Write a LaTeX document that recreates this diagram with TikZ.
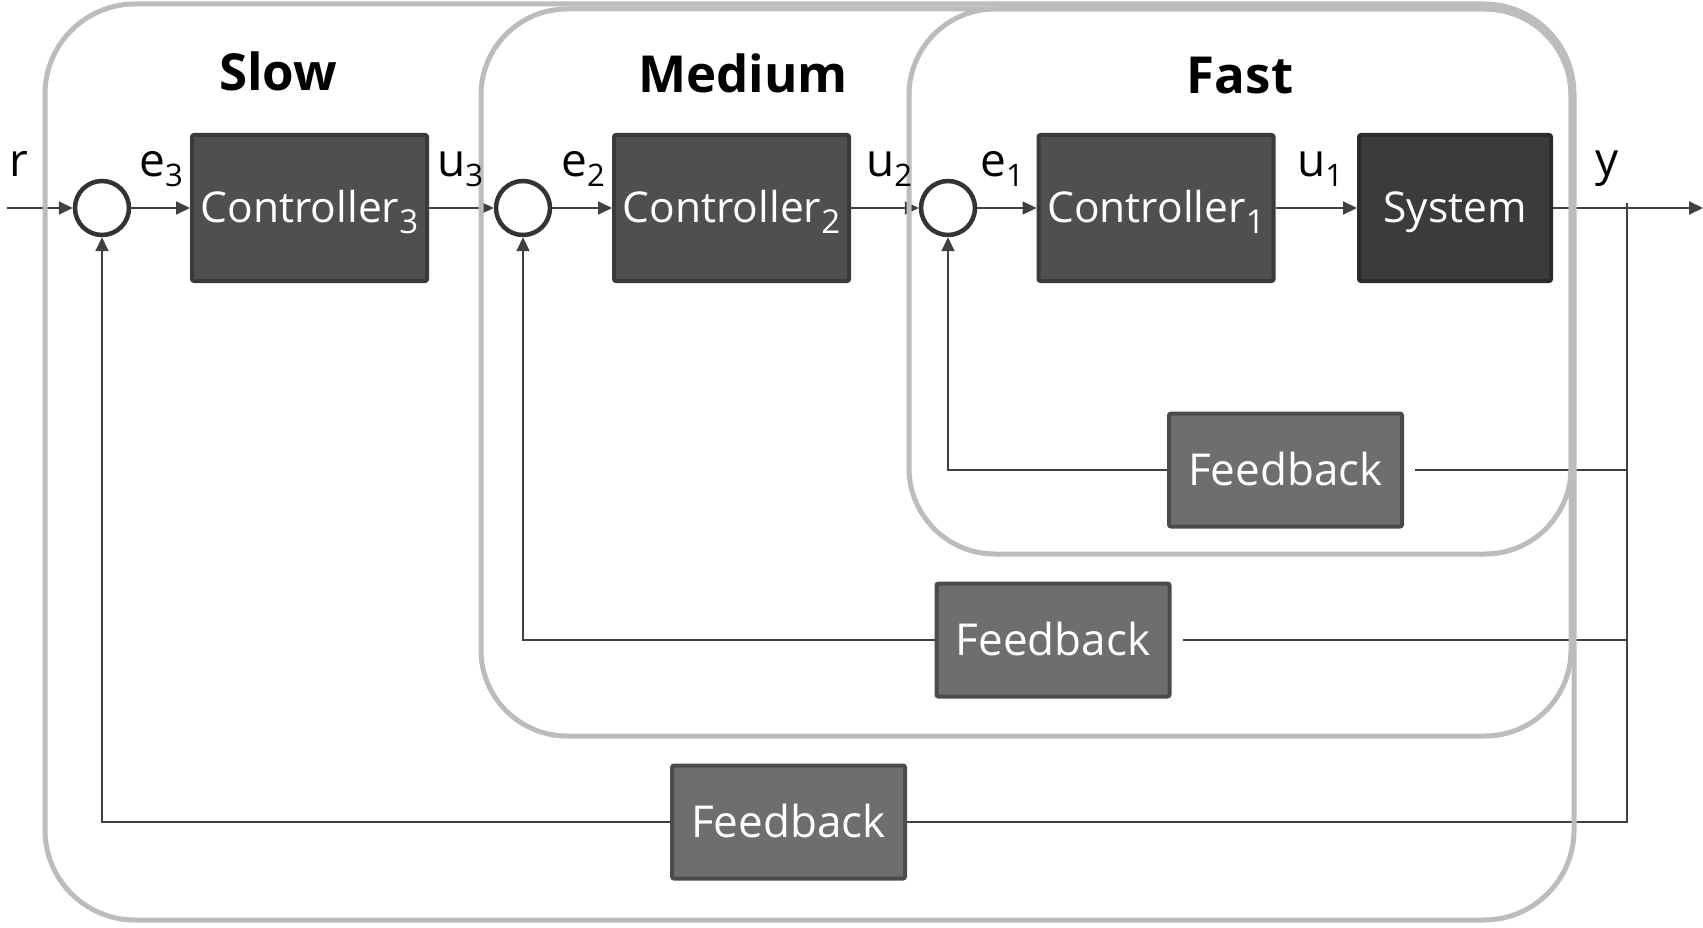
\documentclass[tikz,border=0pt]{standalone}
\usepackage{fontspec}
\setmainfont{Open Sans}
\usetikzlibrary{arrows.meta}
\definecolor{ctrlfill}{HTML}{4F4F4F}
\definecolor{ctrldraw}{HTML}{3A3A3A}
\definecolor{sysfill}{HTML}{3B3B3B}
\definecolor{sysdraw}{HTML}{2B2B2B}
\definecolor{fbfill}{HTML}{6E6E6E}
\definecolor{fbdraw}{HTML}{4B4B4B}
\definecolor{framegray}{HTML}{BCBCBC}
\definecolor{conngray}{HTML}{404040}
\definecolor{circdraw}{HTML}{333333}
\pgfdeclarelayer{connlayer}
\pgfdeclarelayer{framelayer}
\pgfsetlayers{connlayer,framelayer,main}
\newcommand{\boxsub}[1]{\raisebox{-10pt}{\fontsize{33}{33}\selectfont #1}}
\newcommand{\lblsub}[1]{\raisebox{-10pt}{\fontsize{31}{31}\selectfont #1}}
\begin{document}
\begin{tikzpicture}[x=1pt,y=-1pt,
  blk/.style={rectangle, rounded corners=2pt, line width=4pt, inner sep=0pt,
    text=white, font=\fontsize{42.5}{50}\selectfont, text height=30pt, text depth=0pt},
  ctrl/.style={blk, fill=ctrlfill, draw=ctrldraw, minimum width=235pt, minimum height=146pt},
  sysbox/.style={blk, fill=sysfill, draw=sysdraw, minimum width=192pt, minimum height=146pt},
  fbbox/.style={blk, fill=fbfill, draw=fbdraw, minimum width=233pt, minimum height=113pt,
    font=\fontsize{44}{50}\selectfont},
  sumnode/.style={circle, draw=circdraw, fill=white, line width=4.5pt, minimum size=54pt, inner sep=0pt},
  lbl/.style={anchor=base west, inner sep=0pt, font=\fontsize{46}{50}\selectfont},
  title/.style={anchor=base, inner sep=0pt, font=\bfseries\fontsize{51}{58}\selectfont},
  frame/.style={draw=framegray, line width=5pt},
  conn/.style={draw=conngray, line width=2pt},
  arr/.style={conn, -{Triangle[length=14pt,width=13pt]}}
]
\useasboundingbox (0,0) rectangle (1703,928);

% frames
\begin{pgfonlayer}{framelayer}
  \draw[frame, rounded corners=90pt] (45,4) rectangle (1574,920);
  \draw[frame, rounded corners=86pt] (481,9) rectangle (1571,736);
  \draw[frame, rounded corners=86pt] (909,9) rectangle (1571,554);
\end{pgfonlayer}

% titles
\node[title] (tslow) at (278,91) {Slow};
\node[title] (tmed) at (743,93) {Medium};
\node[title] (tfast) at (1240,94) {Fast};

% summing junctions
\node[sumnode] (c1) at (102,208) {};
\node[sumnode] (c2) at (523,208) {};
\node[sumnode] (c3) at (948,208) {};

% blocks
\node[ctrl] (k3) at (309.5,208) {Controller\boxsub{3}};
\node[ctrl] (k2) at (731.5,208) {Controller\boxsub{2}};
\node[ctrl] (k1) at (1156,208) {Controller\boxsub{1}};
\node[sysbox] (sys) at (1455,208) {System};
\node[fbbox] (fbF) at (1285.5,470) {Feedback};
\node[fbbox] (fbM) at (1053,640) {Feedback};
\node[fbbox] (fbS) at (788.5,822) {Feedback};

% labels
\node[lbl] (lr) at (9,177) {r};
\node[lbl] (le3) at (139,177) {e\lblsub{3}};
\node[lbl] (lu3) at (437,177) {u\lblsub{3}};
\node[lbl] (le2) at (561,177) {e\lblsub{2}};
\node[lbl] (lu2) at (866,177) {u\lblsub{2}};
\node[lbl] (le1) at (980,177) {e\lblsub{1}};
\node[lbl] (lu1) at (1297,177) {u\lblsub{1}};
\node[lbl] (ly) at (1595,176) {y};

% coordinates
\coordinate (rin) at (7,208);
\coordinate (yout) at (1703,208);
\coordinate (ytop) at (1627,203);
\coordinate (ybot) at (1627,822);

% connectors
\begin{pgfonlayer}{connlayer}
  \draw[arr] (rin) -- (c1.west);
  \draw[arr] (c1.east) -- (k3.west);
  \draw[arr] (k3.east) -- (c2.west);
  \draw[arr] (c2.east) -- (k2.west);
  \draw[arr] (k2.east) -- (c3.west);
  \draw[arr] (c3.east) -- (k1.west);
  \draw[arr] (k1.east) -- (sys.west);
  \draw[arr] (sys.east) -- (yout);
  \draw[conn] (ytop) -- (ybot) -- (fbS.east);
  \draw[conn] (ybot |- fbF.east) -- ([xshift=11pt]fbF.east);
  \draw[conn] (ybot |- fbM.east) -- ([xshift=11pt]fbM.east);
  \draw[arr] (fbF.west) -| (c3.south);
  \draw[arr] (fbM.west) -| (c2.south);
  \draw[arr] (fbS.west) -| (c1.south);
\end{pgfonlayer}
\end{tikzpicture}
\end{document}
